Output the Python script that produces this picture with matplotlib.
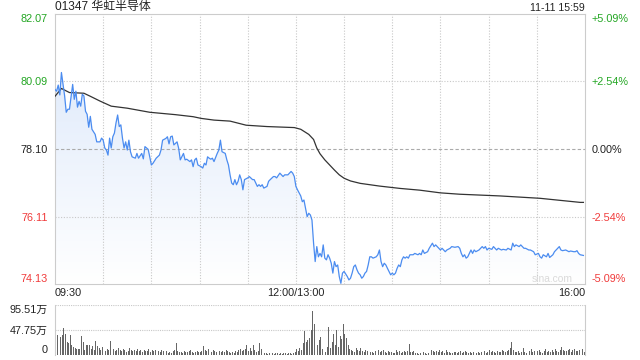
import numpy as np
import matplotlib
matplotlib.use('Agg')
import matplotlib.pyplot as plt
from matplotlib.colors import LinearSegmentedColormap

plt.rcParams['font.family'] = ['Liberation Sans', 'Noto Sans CJK SC']

title = '01347 华虹半导体'
stamp = '11-11 15:59'
prev_close = 78.10
price_ticks = [74.13, 76.11, 78.10, 80.09, 82.07]
pct_labels = ['-5.09%', '-2.54%', '0.00%', '+2.54%', '+5.09%']
time_pos = [0, 150, 330]
time_labels = ['09:30', '12:00/13:00', '16:00']
vol_ticks = [0, 47.75, 95.51]
vol_labels = ['0', '47.75万', '95.51万']

# trading minute since 09:30 (lunch removed) and last price
price_t = [0, 1, 2, 3, 4, 5, 6, 7, 8, 9, 11, 12, 13, 14, 15, 16, 17, 18, 19, 20,
           21, 22, 23, 25, 26, 28, 29, 30, 31, 32, 33, 34, 35, 36, 37, 38, 39, 40, 41, 42,
           43, 44, 45, 46, 47, 48, 50, 51, 52, 54, 55, 56, 58, 59, 60, 61, 63, 65, 66, 67,
           69, 70, 71, 72, 73, 74, 76, 77, 78, 80, 81, 82, 84, 85, 86, 87, 88, 89, 91, 92,
           93, 94, 95, 96, 97, 98, 99, 101, 102, 103, 104, 106, 107, 108, 109, 110, 111, 112, 113, 114,
           115, 116, 117, 118, 120, 121, 123, 124, 125, 126, 127, 128, 129, 130, 132, 133, 134, 136, 137, 138,
           140, 141, 142, 143, 145, 146, 147, 148, 149, 150, 151, 153, 154, 155, 156, 157, 158, 159, 160, 161,
           162, 163, 164, 165, 166, 167, 168, 169, 170, 171, 172, 173, 174, 175, 176, 177, 178, 179, 180, 182,
           183, 184, 185, 186, 187, 188, 189, 190, 191, 192, 193, 194, 195, 196, 197, 198, 200, 201, 202, 203,
           204, 205, 206, 207, 209, 210, 211, 212, 213, 214, 215, 216, 217, 218, 219, 220, 221, 223, 224, 226,
           227, 228, 229, 230, 232, 233, 235, 236, 237, 238, 240, 241, 243, 244, 246, 247, 249, 251, 252, 253,
           254, 255, 256, 257, 258, 259, 260, 261, 262, 264, 265, 266, 267, 268, 269, 270, 272, 273, 274, 275,
           276, 278, 279, 281, 282, 284, 285, 286, 287, 289, 290, 292, 293, 295, 296, 298, 299, 301, 302, 303,
           304, 306, 307, 308, 310, 311, 312, 314, 315, 316, 318, 320, 321, 323, 324, 325, 326, 327, 329]
price_v = [79.85, 79.80, 79.98, 79.69, 80.35, 80.00, 79.66, 79.18, 79.27, 79.27, 80.00, 79.56, 79.80, 79.33, 79.50, 79.36, 79.71, 79.66, 79.21, 79.12,
           78.74, 79.06, 78.68, 78.53, 78.31, 78.31, 78.42, 78.36, 78.13, 78.07, 77.92, 78.42, 78.13, 78.46, 78.57, 78.87, 79.10, 78.76, 78.81, 78.42,
           78.13, 78.31, 78.07, 78.36, 78.02, 77.87, 77.83, 77.97, 77.83, 77.97, 77.81, 78.17, 78.09, 77.87, 77.63, 77.68, 77.83, 77.92, 78.07, 78.36,
           78.41, 78.46, 78.25, 78.46, 78.48, 78.22, 78.31, 78.12, 77.78, 77.97, 77.78, 77.80, 77.73, 77.78, 77.58, 77.78, 77.83, 77.63, 77.58, 77.54,
           77.68, 77.63, 77.87, 77.83, 77.80, 77.83, 77.73, 77.97, 78.07, 78.36, 78.02, 77.97, 77.78, 77.63, 77.34, 77.10, 77.05, 77.20, 77.05, 77.15,
           77.34, 77.20, 76.90, 77.20, 77.25, 77.29, 77.20, 77.20, 77.10, 77.00, 77.05, 77.00, 77.05, 76.95, 77.00, 77.15, 77.20, 77.29, 77.29, 77.25,
           77.39, 77.34, 77.29, 77.34, 77.34, 77.39, 77.44, 77.39, 77.29, 77.00, 76.90, 76.72, 76.55, 76.60, 76.36, 76.11, 76.21, 76.16, 76.01, 75.33,
           74.79, 75.23, 74.93, 75.03, 74.93, 75.28, 74.89, 74.84, 74.99, 74.89, 74.74, 74.45, 74.79, 74.64, 74.69, 74.35, 74.15, 74.45, 74.50, 74.35,
           74.25, 74.30, 74.45, 74.64, 74.69, 74.55, 74.45, 74.40, 74.30, 74.35, 74.45, 74.50, 74.69, 74.93, 74.93, 74.89, 74.93, 74.99, 75.13, 74.79,
           74.64, 74.74, 74.69, 74.59, 74.40, 74.45, 74.40, 74.45, 74.59, 74.69, 74.64, 74.84, 74.93, 74.89, 74.93, 74.89, 74.99, 74.99, 75.03, 74.99,
           75.03, 74.99, 75.13, 75.03, 75.08, 75.18, 75.33, 75.23, 75.28, 75.23, 75.13, 75.18, 75.08, 75.13, 75.18, 75.23, 75.21, 75.23, 75.18, 75.03,
           74.93, 74.99, 74.89, 74.93, 75.03, 75.13, 75.03, 75.13, 75.08, 75.13, 75.18, 75.23, 75.18, 75.23, 75.13, 75.18, 75.15, 75.23, 75.18, 75.13,
           75.18, 75.13, 75.15, 75.13, 75.18, 75.13, 75.33, 75.23, 75.28, 75.23, 75.28, 75.18, 75.18, 75.13, 75.13, 75.08, 74.99, 75.03, 74.93, 74.89,
           74.99, 74.93, 75.03, 74.91, 74.99, 75.08, 75.13, 75.23, 75.13, 75.11, 75.13, 75.08, 75.10, 75.08, 75.08, 75.11, 75.03, 74.99, 74.97]

# average price line
avg_t = [0, 4, 9, 18, 22, 28, 35, 45, 59, 75, 86, 91, 99, 109, 119, 132, 149, 153, 158, 161,
         163, 165, 168, 171, 174, 177, 180, 184, 190, 202, 215, 227, 240, 252, 277, 302, 327, 329]
avg_v = [79.65, 79.88, 79.76, 79.74, 79.65, 79.51, 79.36, 79.30, 79.18, 79.11, 79.05, 79.00, 78.95, 78.92, 78.80, 78.76, 78.73, 78.68, 78.53, 78.38,
         78.13, 77.96, 77.78, 77.63, 77.48, 77.34, 77.24, 77.16, 77.09, 77.01, 76.94, 76.89, 76.81, 76.77, 76.72, 76.65, 76.53, 76.53]

# volume per minute, in 万
volume = [95, 38, 67, 35, 38, 51, 41, 25, 22, 38,
          19, 16, 14, 12, 11, 11, 36, 25, 10, 20,
          20, 20, 12, 18, 10, 27, 18, 14, 9, 16,
          14, 8, 12, 9, 27, 10, 12, 8, 9, 14,
          9, 7, 12, 10, 6, 8, 13, 9, 7, 10,
          8, 11, 7, 9, 6, 10, 8, 7, 11, 6,
          9, 7, 10, 12, 8, 6, 9, 7, 5, 8,
          4, 6, 3, 7, 10, 22, 8, 5, 6, 4,
          7, 5, 6, 8, 9, 6, 4, 5, 7, 6,
          5, 8, 17, 10, 8, 12, 7, 6, 9, 8,
          6, 9, 7, 5, 8, 6, 10, 7, 5, 4,
          6, 4, 7, 5, 9, 12, 8, 10, 11, 19,
          8, 13, 7, 20, 10, 6, 8, 22, 12, 6,
          4, 3, 2, 3, 4, 3, 2, 3, 4, 2,
          3, 2, 4, 3, 2, 3, 4, 2, 3, 5,
          12, 8, 14, 10, 22, 45, 25, 28, 32, 48,
          85, 60, 35, 20, 28, 35, 12, 20, 6, 16,
          54, 14, 24, 41, 20, 48, 16, 36, 30, 59,
          40, 32, 20, 12, 10, 8, 6, 13, 10, 8,
          14, 8, 6, 10, 7, 12, 5, 6, 4, 8,
          6, 9, 5, 7, 10, 5, 4, 8, 6, 5,
          3, 4, 9, 6, 7, 4, 6, 8, 5, 7,
          21, 6, 5, 8, 4, 3, 2, 4, 3, 5,
          3, 2, 4, 6, 10, 7, 5, 8, 6, 9,
          5, 7, 4, 9, 6, 5, 3, 4, 6, 5,
          3, 5, 7, 4, 6, 8, 5, 3, 6, 4,
          5, 7, 4, 6, 3, 5, 7, 8, 4, 6,
          10, 5, 7, 6, 4, 8, 6, 5, 9, 7,
          6, 8, 10, 14, 25, 10, 6, 5, 7, 4,
          5, 13, 6, 4, 9, 7, 12, 5, 8, 6,
          7, 10, 6, 4, 8, 11, 6, 7, 5, 9,
          6, 12, 8, 6, 9, 16, 10, 8, 7, 9,
          11, 6, 9, 12, 8, 7, 10, 14, 12, 6]

GREEN = '#23a623'
RED = '#f03a3a'
BORDER = '#cccccc'
GRID = '#c8c8c8'

fig = plt.figure(figsize=(6.4, 3.6), dpi=100)
ax = fig.add_axes([55/640, 76/360, 530/640, 270/360])
axv = fig.add_axes([55/640, 5/360, 530/640, 50/360])

lo, hi = price_ticks[0], price_ticks[-1]
ax.set_xlim(0, 330)
ax.set_ylim(lo, hi)

# gradient fill under the price line
poly = ax.fill_between(price_t, price_v, lo, color='none', lw=0)
cmap = LinearSegmentedColormap.from_list('fade', ['#ffffff', '#d9e6fa'])
grad = np.linspace(1, 0, 256).reshape(-1, 1)
im = ax.imshow(grad, extent=[0, 330, lo, hi], aspect='auto', cmap=cmap,
               origin='upper', zorder=1)
im.set_clip_path(poly.get_paths()[0], transform=ax.transData)

for t in range(30, 330, 30):
    ax.axvline(t, color=GRID, lw=0.8, ls=(0, (1, 1.5)), zorder=2)
for p in price_ticks[1:-1]:
    if p == prev_close:
        ax.axhline(p, color='#aaaaaa', lw=0.8, ls=(0, (3, 2)), zorder=2)
    else:
        ax.axhline(p, color=GRID, lw=0.8, ls=(0, (1, 1.5)), zorder=2)

ax.plot(avg_t, avg_v, color='#333333', lw=0.9, zorder=3)
ax.plot(price_t, price_v, color='#4b8cf0', lw=0.9, zorder=4)

for s in ax.spines.values():
    s.set_color(BORDER)

ax.set_xticks(time_pos, time_labels)
ax.tick_params(axis='x', length=0, pad=3, labelsize=7.8, colors='#222222')
xl = ax.get_xticklabels()
xl[0].set_ha('left')
xl[-1].set_ha('right')

def tick_color(p):
    if p > prev_close:
        return GREEN
    if p < prev_close:
        return RED
    return '#222222'

ax.set_yticks(price_ticks, [f'{p:.2f}' for p in price_ticks])
ax.tick_params(axis='y', length=0, pad=5, labelsize=7.8)
for lab, p in zip(ax.get_yticklabels(), price_ticks):
    lab.set_color(tick_color(p))
ax.get_yticklabels()[0].set_va('bottom')
ax.get_yticklabels()[-1].set_va('top')

axr = ax.twinx()
axr.set_ylim(lo, hi)
axr.set_yticks(price_ticks, pct_labels)
axr.tick_params(axis='y', length=0, pad=5, labelsize=7.8)
for lab, p in zip(axr.get_yticklabels(), price_ticks):
    lab.set_color(tick_color(p))
axr.get_yticklabels()[0].set_va('bottom')
axr.get_yticklabels()[-1].set_va('top')
for s in axr.spines.values():
    s.set_visible(False)

ax.text(0.977, 0.018, 'sina.com', transform=ax.transAxes, ha='right', va='center',
        fontsize=7.4, color='#dadada', zorder=5)

# volume panel
axv.bar(np.arange(len(volume)) + 0.5, volume, width=0.6, color='#666666', zorder=2)
axv.set_xlim(0, 330)
axv.set_ylim(0, vol_ticks[-1])
for v in vol_ticks[1:]:
    axv.axhline(v, color='#c8c8c8', lw=0.8, ls=(0, (1, 1)), zorder=0)
axv.spines['top'].set_visible(False)
axv.spines['bottom'].set_visible(False)
axv.spines['left'].set_color(BORDER)
axv.spines['right'].set_color(BORDER)
axv.set_xticks([])
axv.set_yticks(vol_ticks, vol_labels)
axv.tick_params(axis='y', length=0, pad=5, labelsize=7.8, colors='#222222')
axv.get_yticklabels()[0].set_va('bottom')
axv.get_yticklabels()[-1].set_va('top')

fig.text(55/640, 1 - 7/360, title, ha='left', va='center', fontsize=8.6, color='#222222')
fig.text(585/640, 1 - 8/360, stamp, ha='right', va='center', fontsize=7.6, color='#222222')

fig.savefig('out.png', dpi=100)
